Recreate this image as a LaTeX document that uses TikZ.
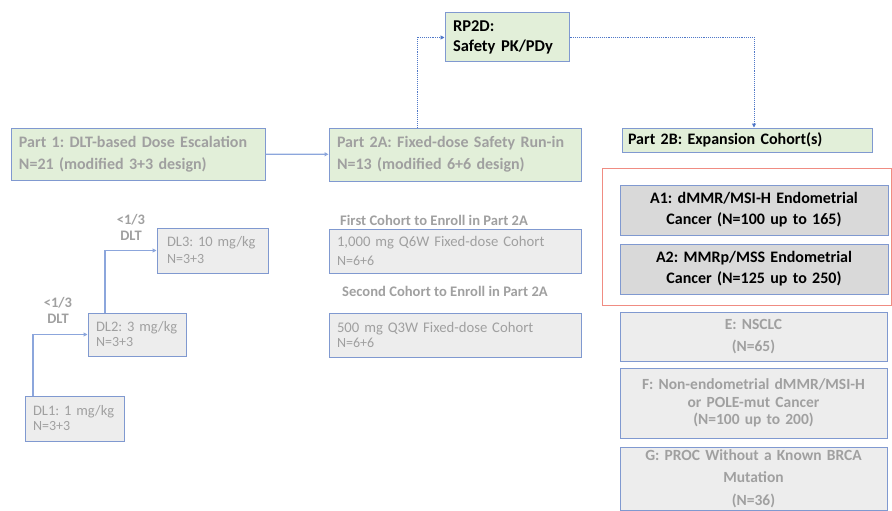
\documentclass[tikz,border=0pt]{standalone}
\usepackage{fontspec}
\setmainfont{Carlito}
\usetikzlibrary{arrows.meta}
\definecolor{boxblue}{RGB}{128,153,208}
\definecolor{lineblue}{RGB}{140,166,220}
\definecolor{dotblue}{RGB}{80,120,200}
\definecolor{palegreen}{RGB}{226,239,217}
\definecolor{palegray}{RGB}{237,237,237}
\definecolor{midgray}{RGB}{217,217,217}
\definecolor{txtgray}{RGB}{160,160,160}
\definecolor{framered}{RGB}{240,140,130}
\tikzset{box/.style={draw=boxblue, line width=1pt, inner xsep=8pt, inner ysep=2pt}}
\tikzset{gbox/.style={box, fill=palegreen}}
\tikzset{ybox/.style={box, fill=palegray, text=txtgray}}
\tikzset{flow/.style={color=lineblue, line width=1.1pt, -{Triangle[length=4pt,width=4pt]}}}
\tikzset{dotflow/.style={color=dotblue, line width=.9pt, densely dotted, -{Triangle[length=4pt,width=4pt]}}}
\tikzset{note/.style={inner sep=0pt, text=txtgray, font=\fontsize{14.6}{16}\selectfont\bfseries}}
\newcommand{\sublin}[1]{{\fontsize{14}{15}\selectfont #1}}

\begin{document}
\frenchspacing
\begin{tikzpicture}[x=1pt, y=-1pt]
  \useasboundingbox (0,0) rectangle (892,511);

  % top row
  \node[gbox, minimum width=124, minimum height=49, text width=108, align=left,
        font=\fontsize{16.5}{20}\selectfont\bfseries] (rptwod) at (507,37.5) {RP2D:\\Safety PK/PDy};
  \node[gbox, minimum width=254, minimum height=52, text width=238, align=left, text=txtgray,
        font=\fontsize{16}{22}\selectfont\bfseries] (partone) at (138,154)
        {Part 1: DLT-based Dose Escalation\\N=21 (modified 3+3 design)};
  \node[gbox, minimum width=252, minimum height=53, text width=236, align=left, text=txtgray,
        font=\fontsize{16}{22}\selectfont\bfseries] (parttwoa) at (455,154.5)
        {Part 2A: Fixed-dose Safety Run-in\\N=13 (modified 6+6 design)};
  \node[gbox, minimum width=250, minimum height=24, text width=238, align=left, inner xsep=6pt,
        font=\fontsize{16}{18}\selectfont\bfseries] (parttwob) at (747,140) {Part 2B: Expansion Cohort(s)};

  % dose levels
  \node[ybox, minimum width=107, minimum height=45, text width=91, align=left, inner xsep=10pt,
        font=\fontsize{14.5}{17}\selectfont] (dlthree) at (212.5,250.5) {DL3: 10 mg/kg\\\sublin{N=3+3}};
  \node[ybox, minimum width=98, minimum height=43, text width=82, align=left,
        font=\fontsize{14.5}{15}\selectfont] (dltwo) at (137,334.5) {DL2: 3 mg/kg\\\sublin{N=3+3}};
  \node[ybox, minimum width=99, minimum height=45, text width=83, align=left,
        font=\fontsize{14.5}{15}\selectfont] (dlone) at (74.5,418.5) {DL1: 1 mg/kg\\\sublin{N=3+3}};
  \node[note, align=center, font=\fontsize{14.5}{16}\selectfont\bfseries] (ruleup) at (131,227) {<1/3\\DLT};
  \node[note, align=center, font=\fontsize{14.5}{16}\selectfont\bfseries] (rulelow) at (58,310) {<1/3\\DLT};

  % part 2A cohorts
  \node[note, anchor=west] (firstlbl) at (340,220) {First Cohort to Enroll in Part 2A};
  \node[ybox, minimum width=252, minimum height=44, text width=236, align=left,
        font=\fontsize{14.7}{19}\selectfont] (cohone) at (455,251)
        {1,000 mg Q6W Fixed-dose Cohort\\\sublin{N=6+6}};
  \node[note, anchor=west] (secondlbl) at (342,291) {Second Cohort to Enroll in Part 2A};
  \node[ybox, minimum width=252, minimum height=44, text width=236, align=left,
        font=\fontsize{14.7}{15}\selectfont] (cohtwo) at (455,335)
        {500 mg Q3W Fixed-dose Cohort\\\sublin{N=6+6}};

  % part 2B cohorts
  \node[draw=framered, line width=1pt, minimum width=289, minimum height=137] (grpA) at (746.5,236.5) {};
  \node[box, fill=midgray, minimum width=268, minimum height=50, text width=252, align=center,
        font=\fontsize{16}{21}\selectfont\bfseries] (aone) at (754,210)
        {A1: dMMR/MSI-H Endometrial\\Cancer (N=100 up to 165)};
  \node[box, fill=midgray, minimum width=268, minimum height=50, text width=252, align=center,
        font=\fontsize{16}{21}\selectfont\bfseries] (atwo) at (754,269)
        {A2: MMRp/MSS Endometrial\\Cancer (N=125 up to 250)};
  \node[ybox, minimum width=267, minimum height=49, text width=251, align=center,
        font=\fontsize{15.5}{22}\selectfont\bfseries] (ecoh) at (753.5,336.5) {E: NSCLC\\(N=65)};
  \node[ybox, minimum width=267, minimum height=70, text width=251, align=center,
        font=\fontsize{15.5}{17.5}\selectfont\bfseries] (fcoh) at (753.5,403)
        {F: Non-endometrial dMMR/MSI-H\\or POLE-mut Cancer\\(N=100 up to 200)};
  \node[ybox, minimum width=267, minimum height=63, text width=251, align=center,
        font=\fontsize{15.5}{22.5}\selectfont\bfseries] (gcoh) at (753.5,478.5)
        {G: PROC Without a Known BRCA\\Mutation\\(N=36)};

  % connectors
  \coordinate (tapA) at (417,0);
  \coordinate (tapB) at (754,0);
  \coordinate (tapC) at (33,0);
  \coordinate (tapD) at (105,0);
  \draw[flow] (partone) -- (parttwoa);
  \draw[dotflow] (parttwoa.north -| tapA) |- (rptwod.west);
  \draw[dotflow] (rptwod.east) -| (parttwob.north -| tapB);
  \draw[flow] (dlone.north -| tapC) |- (dltwo.west);
  \draw[flow] (dltwo.north -| tapD) |- (dlthree.west);
\end{tikzpicture}
\end{document}
